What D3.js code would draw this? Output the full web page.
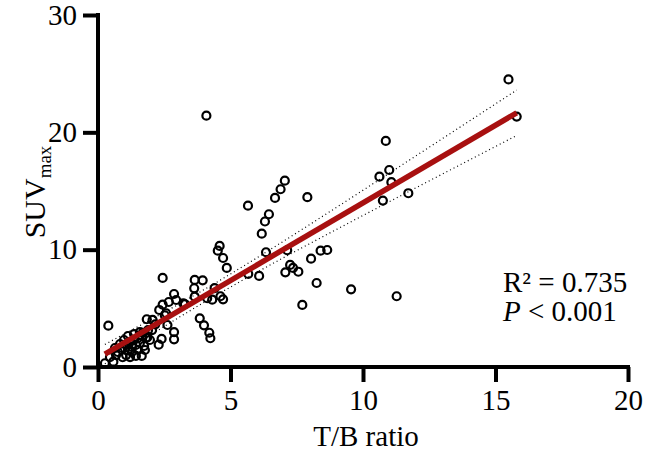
<!DOCTYPE html>
<html><head><meta charset="utf-8">
<script src="https://cdn.jsdelivr.net/npm/d3@7"></script>
<style>body{margin:0;background:#fff}svg{display:block}</style>
</head><body>
<svg id="c" width="646" height="451"></svg>
<script>
// T/B ratio values
const tbRatio = [15.49,15.80,4.09,10.86,10.99,10.62,11.07,10.75,11.71,7.90,8.04,8.40,8.65,8.25,9.55,11.27,7.71,
7.05,6.89,6.68,5.66,6.45,6.30,6.18,4.59,4.52,4.72,4.86,6.34,7.14,5.67,6.08,7.25,7.36,7.07,7.56,
3.65,3.95,3.63,3.65,4.40,4.12,4.31,4.62,4.72,3.22,3.84,2.44,0.39,2.87,2.95,2.67,2.44,2.31,2.57,3.28,
4.00,4.20,4.24,1.84,2.06,2.16,2.52,2.62,2.87,2.87,2.40,2.29,1.65,0.45,0.93,0.58,0.26,
0.75,0.91,1.06,1.21,1.36,1.51,1.13,1.28,1.43,1.58,0.98,0.83,1.66,1.81,1.36,1.13,1.28,1.51,1.74,0.68,1.06,
1.58,1.89,2.04,1.43,0.64,1.21,1.96,1.77,1.69,1.86];
// SUVmax values
const suvMax = [24.51,21.34,21.42,19.27,16.79,16.22,15.75,14.18,14.81,14.47,9.23,9.91,9.97,7.16,6.62,6.03,5.29,
15.88,15.15,14.41,13.75,13.02,12.40,11.36,10.32,9.91,9.29,8.44,9.78,9.95,7.93,7.76,8.70,8.44,8.07,8.12,
7.42,7.39,6.71,5.99,6.73,5.86,5.74,6.03,5.77,5.43,4.15,7.59,3.52,6.22,5.71,5.54,5.31,4.86,4.58,5.35,
3.55,2.92,2.45,4.07,4.01,3.64,4.41,3.58,2.98,2.36,2.39,1.90,0.94,0.83,0.83,0.45,0.32,
1.28,1.62,1.88,2.13,2.30,2.47,1.45,1.71,1.88,2.05,2.30,1.96,2.64,2.47,2.81,2.64,1.28,1.45,1.79,1.02,1.02,
2.98,3.15,3.15,0.94,1.62,0.85,2.30,1.45,2.92,2.53];
const xTicks = [0,5,10,15,20];
const yTicks = [0,10,20,30];
const statsText = ["R\u00B2 = 0.735","P < 0.001"];

const svg = d3.select("#c");
const x = d3.scaleLinear().domain([0,20]).range([98,628]);
const y = d3.scaleLinear().domain([0,30]).range([367,15]);
const font = "'Liberation Serif','Times New Roman',serif";
const fs = 29;

// regression
const pts = tbRatio.map((v,i)=>[v,suvMax[i]]);
const n = pts.length;
const mx = d3.mean(pts,d=>d[0]), my = d3.mean(pts,d=>d[1]);
const sxx = d3.sum(pts,d=>(d[0]-mx)**2), sxy = d3.sum(pts,d=>(d[0]-mx)*(d[1]-my));
const b = sxy/sxx, a = my - b*mx;
const s = Math.sqrt(d3.sum(pts,d=>(d[1]-a-b*d[0])**2)/(n-2));
const t = 1.98;
const xmin = d3.min(tbRatio), xmax = d3.max(tbRatio);
const xs = d3.range(0,101).map(i=>xmin+(xmax-xmin)*i/100);
const band = xs.map(v=>{const se=s*Math.sqrt(1/n+(v-mx)**2/sxx);const f=a+b*v;return [v,f-t*se,f+t*se];});

const line = d3.line().x(d=>x(d[0])).y(d=>y(d[1]));
svg.append("path").attr("d",line(band.map(d=>[d[0],d[2]]))).attr("fill","none").attr("stroke","#000").attr("stroke-width",1.2).attr("stroke-dasharray","1,3");
svg.append("path").attr("d",line(band.map(d=>[d[0],d[1]]))).attr("fill","none").attr("stroke","#000").attr("stroke-width",1.2).attr("stroke-dasharray","1,3");

// points
svg.append("g").selectAll("circle").data(pts).join("circle")
  .attr("cx",d=>x(d[0])).attr("cy",d=>y(d[1])).attr("r",4)
  .attr("fill","none").attr("stroke","#000").attr("stroke-width",2.2);

// fit line
svg.append("path").attr("d",line([[xmin,a+b*xmin],[xmax,a+b*xmax]]))
  .attr("stroke","#a81010").attr("stroke-width",5.5).attr("fill","none");

// axes
const xa = svg.append("g").attr("transform","translate(0,367)")
  .call(d3.axisBottom(x).tickValues(xTicks).tickSize(15).tickSizeOuter(0).tickPadding(7));
const ya = svg.append("g").attr("transform","translate(98,0)")
  .call(d3.axisLeft(y).tickValues(yTicks).tickSize(15).tickSizeOuter(0).tickPadding(6));
[xa,ya].forEach(g=>{
  g.select(".domain").attr("stroke","#000").attr("stroke-width",4);
  g.selectAll(".tick line").attr("stroke","#000").attr("stroke-width",4);
  g.selectAll(".tick text").attr("font-family",font).attr("font-size",fs).attr("fill","#000");
});
xa.select(".domain").attr("d","M96,0H630");
ya.select(".domain").attr("d","M0,13V369");

// axis titles
svg.append("text").attr("x",366).attr("y",446).attr("text-anchor","middle")
  .attr("font-family",font).attr("font-size",fs).text("T/B ratio");
const yt = svg.append("text").attr("transform","translate(45,192) rotate(-90)").attr("text-anchor","middle")
  .attr("font-family",font).attr("font-size",30);
yt.append("tspan").text("SUV");
yt.append("tspan").attr("font-size",19).attr("dy",6).text("max");

// stats
const st = svg.append("g").attr("font-family",font).attr("font-size",fs);
st.append("text").attr("x",503).attr("y",292).text(statsText[0]);
const p = st.append("text").attr("x",503).attr("y",321);
p.append("tspan").attr("font-style","italic").text(statsText[1].slice(0,1));
p.append("tspan").text(statsText[1].slice(1));
</script>
</body></html>
